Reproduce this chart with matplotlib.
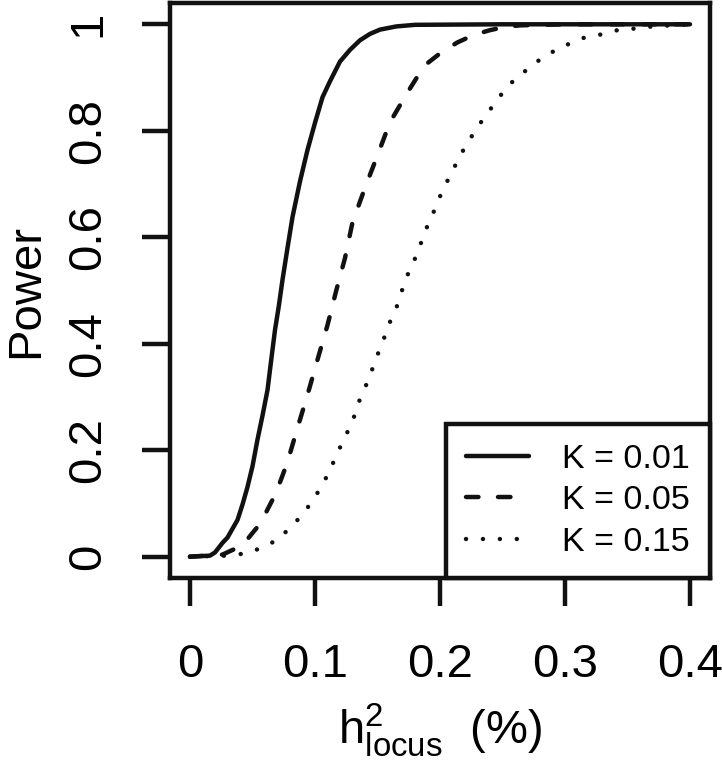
import matplotlib
matplotlib.use("Agg")
import matplotlib.pyplot as plt

plt.rcParams['font.family'] = ['Liberation Sans', 'DejaVu Sans']
plt.rcParams['mathtext.fontset'] = 'custom'
plt.rcParams['mathtext.rm'] = 'Liberation Sans'
plt.rcParams['mathtext.it'] = 'Liberation Sans'

# ---- data ----
x_k01 = [0, 0.016, 0.02, 0.026, 0.03, 0.038, 0.042, 0.046, 0.05, 0.054,
         0.058, 0.062, 0.065, 0.068, 0.071, 0.074, 0.078, 0.082, 0.088, 0.094,
         0.1, 0.106, 0.112, 0.12, 0.128, 0.136, 0.144, 0.152, 0.165, 0.18,
         0.25, 0.4]
y_k01 = [0, 0.002, 0.008, 0.026, 0.036, 0.069, 0.098, 0.131, 0.17, 0.22,
         0.265, 0.313, 0.37, 0.426, 0.47, 0.52, 0.58, 0.638, 0.705, 0.764,
         0.815, 0.863, 0.893, 0.93, 0.952, 0.97, 0.982, 0.99, 0.996, 0.999,
         1.0, 1.0]

x_k05 = [0, 0.026, 0.038, 0.046, 0.054, 0.061, 0.068, 0.073, 0.078, 0.086,
         0.094, 0.102, 0.11, 0.117, 0.124, 0.13, 0.14, 0.15, 0.16, 0.174,
         0.182, 0.19, 0.202, 0.214, 0.227, 0.24, 0.252, 0.264, 0.3, 0.4]
y_k05 = [0, 0.004, 0.017, 0.033, 0.056, 0.084, 0.116, 0.146, 0.178, 0.242,
         0.304, 0.37, 0.435, 0.5, 0.561, 0.628, 0.693, 0.754, 0.816, 0.872,
         0.902, 0.927, 0.949, 0.966, 0.98, 0.989, 0.995, 0.998, 1.0, 1.0]

x_k15 = [0, 0.03, 0.044, 0.058, 0.07, 0.08, 0.09, 0.098, 0.106, 0.112,
         0.118, 0.124, 0.13, 0.134, 0.14, 0.145, 0.15, 0.155, 0.16, 0.166,
         0.17, 0.175, 0.181, 0.186, 0.191, 0.197, 0.202, 0.209, 0.215, 0.222,
         0.23, 0.238, 0.246, 0.255, 0.266, 0.277, 0.289, 0.302, 0.314, 0.329,
         0.342, 0.356, 0.37, 0.385, 0.4]
y_k15 = [0, 0.002, 0.006, 0.017, 0.032, 0.054, 0.079, 0.105, 0.135, 0.163,
         0.195, 0.225, 0.253, 0.285, 0.317, 0.347, 0.379, 0.409, 0.441, 0.473,
         0.503, 0.535, 0.565, 0.597, 0.628, 0.658, 0.689, 0.719, 0.749, 0.777,
         0.807, 0.833, 0.859, 0.886, 0.908, 0.929, 0.947, 0.962, 0.974, 0.981,
         0.989, 0.992, 0.996, 0.998, 1.0]

etiquetas = ['K = 0.01', 'K = 0.05', 'K = 0.15']
xticks = [0, 0.1, 0.2, 0.3, 0.4]
xticklabels = ['0', '0.1', '0.2', '0.3', '0.4']
yticks = [0, 0.2, 0.4, 0.6, 0.8, 1]
yticklabels = ['0', '0.2', '0.4', '0.6', '0.8', '1']

lw = 3.2
col = '#111111'

fig = plt.figure(figsize=(7.22, 7.65), dpi=100)
ax = fig.add_axes([170/722, 1 - 578/765, 540/722, 575/765])

ax.plot(x_k01, y_k01, '-', color=col, lw=lw, solid_capstyle='round',
        solid_joinstyle='round', label=etiquetas[0])
ax.plot(x_k05, y_k05, color=col, lw=lw, linestyle=(0, (2.8, 4.4)),
        dash_capstyle='round', label=etiquetas[1])
ax.plot(x_k15, y_k15, color=col, lw=lw, linestyle=(0, (0.01, 3.8)),
        dash_capstyle='round', label=etiquetas[2])

ax.set_xlim(-0.016, 0.416)
ax.set_ylim(-0.04, 1.04)

ax.set_xticks(xticks)
ax.set_xticklabels(xticklabels)
ax.set_yticks(yticks)
ax.set_yticklabels(yticklabels, rotation=90, va='center')
ax.tick_params(axis='both', length=20, width=lw, color=col, labelsize=34)
ax.tick_params(axis='x', pad=27)
ax.tick_params(axis='y', pad=23)

for s in ax.spines.values():
    s.set_linewidth(lw)
    s.set_color(col)

ax.set_xlabel(r'$\mathrm{h}^2_{\mathrm{locus}}$  (%)', fontsize=34, labelpad=10)
ax.set_ylabel('Power', fontsize=34, labelpad=13)

leg = ax.legend(loc='lower right', borderaxespad=0, fontsize=24.5, fancybox=False,
                edgecolor=col, framealpha=1, handlelength=1.85, handletextpad=0.95,
                borderpad=0.6, labelspacing=0.3)
leg.get_frame().set_linewidth(lw)

plt.savefig('out.png', dpi=100)
